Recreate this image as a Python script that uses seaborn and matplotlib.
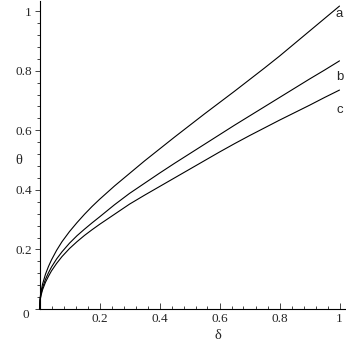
import numpy as np
import pandas as pd
import seaborn as sns
import matplotlib.pyplot as plt
from matplotlib.ticker import MultipleLocator

# values
delta = [0.0, 0.002, 0.005, 0.01, 0.02, 0.03, 0.04, 0.057, 0.075, 0.1, 0.125, 0.15, 0.175, 0.2,
         0.25, 0.3, 0.35, 0.4, 0.45, 0.5, 0.55, 0.6, 0.65, 0.7, 0.75, 0.8, 0.85, 0.9, 0.95, 1.0]
theta_a = [0.0, 0.037, 0.058, 0.083, 0.117, 0.143, 0.165, 0.197, 0.226, 0.26, 0.29, 0.318, 0.344, 0.368,
           0.413, 0.455, 0.497, 0.537, 0.577, 0.616, 0.655, 0.693, 0.731, 0.77, 0.809, 0.849, 0.891, 0.933, 0.975, 1.017]
theta_b = [0.0, 0.031, 0.05, 0.071, 0.1, 0.122, 0.141, 0.168, 0.192, 0.221, 0.246, 0.268, 0.289, 0.309,
           0.35, 0.388, 0.422, 0.456, 0.489, 0.521, 0.553, 0.585, 0.617, 0.648, 0.679, 0.71, 0.741, 0.772, 0.802, 0.833]
theta_c = [0.0, 0.029, 0.045, 0.064, 0.09, 0.11, 0.128, 0.153, 0.176, 0.203, 0.226, 0.247, 0.266, 0.284,
           0.318, 0.352, 0.382, 0.411, 0.44, 0.469, 0.498, 0.527, 0.555, 0.582, 0.608, 0.634, 0.659, 0.684, 0.71, 0.735]
curve_names = ['a', 'b', 'c']

df = pd.concat([
    pd.DataFrame({'delta': delta, 'theta': vals, 'curve': name})
    for name, vals in zip(curve_names, [theta_a, theta_b, theta_c])
])

sns.set_style("white")
plt.rcParams['font.family'] = ['Liberation Serif', 'DejaVu Serif']

fig = plt.figure(figsize=(3.46, 3.46), dpi=100)
ax = fig.add_axes([39.5 / 346, 37 / 346, 306 / 346, 308 / 346])

sns.lineplot(data=df, x='delta', y='theta', hue='curve', palette=['black'] * 3,
             legend=False, linewidth=0.8, sort=False, ax=ax)
for line in ax.get_lines():
    line.set_clip_on(False)

ax.set_xlim(0, 1.02)
ax.set_ylim(0, 1.034)

for s in ['top', 'right']:
    ax.spines[s].set_visible(False)
for s in ['left', 'bottom']:
    ax.spines[s].set_color('black')
    ax.spines[s].set_linewidth(0.8)

ax.xaxis.set_major_locator(MultipleLocator(0.2))
ax.xaxis.set_minor_locator(MultipleLocator(0.04))
ax.yaxis.set_major_locator(MultipleLocator(0.2))
ax.yaxis.set_minor_locator(MultipleLocator(0.04))
ax.set_xticks([0.2, 0.4, 0.6, 0.8, 1.0])
ax.set_xticklabels(['0.2', '0.4', '0.6', '0.8', '1'])
ax.set_yticks([0, 0.2, 0.4, 0.6, 0.8, 1.0])
ax.set_yticklabels(['', '0.2', '0.4', '0.6', '0.8', '1'])

ax.tick_params(axis='x', which='both', direction='in', bottom=True, labelsize=9.5, pad=3, width=0.6)
ax.tick_params(axis='x', which='major', length=4)
ax.tick_params(axis='x', which='minor', length=2)
ax.tick_params(axis='y', which='both', direction='out', left=True, labelsize=9.5, pad=2, width=0.6)
ax.tick_params(axis='y', which='major', length=3.5)
ax.tick_params(axis='y', which='minor', length=2)

ax.text(-0.047, -0.02, '0', fontsize=9.5, ha='center', va='center', transform=ax.transData)

ax.set_xlabel('δ', fontsize=10.5)
ax.set_ylabel('θ', fontsize=10.5, rotation=0, va='center', ha='center')
ax.xaxis.set_label_coords(178 / 306, -20 / 308)
ax.yaxis.set_label_coords(-21 / 306, 149 / 308)

label_y = [0.99, 0.779, 0.668]
for name, y in zip(curve_names, label_y):
    ax.text(1.0, y, name, fontsize=9.5, family=['Liberation Sans', 'DejaVu Sans'],
            ha='center', va='center')

fig.savefig('out.png', dpi=100)
